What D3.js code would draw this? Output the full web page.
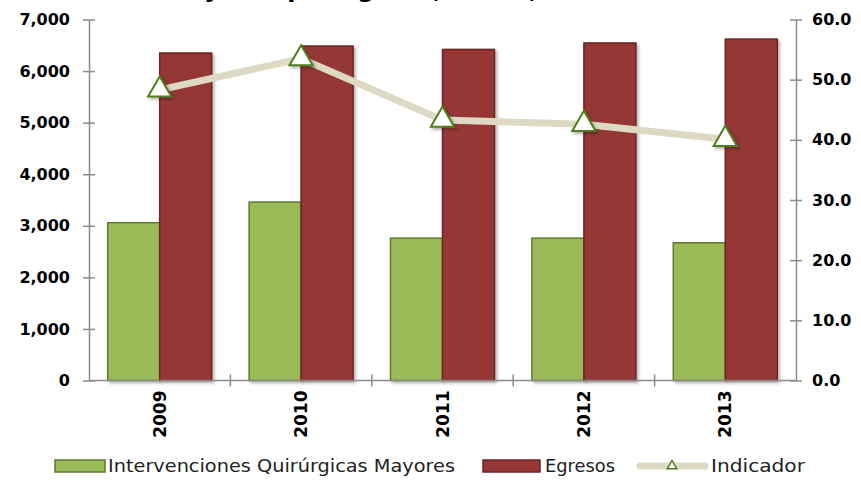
<!DOCTYPE html>
<html>
<head>
<meta charset="utf-8">
<script src="https://cdn.jsdelivr.net/npm/d3@7"></script>
<style>
  body { margin: 0; background: #fff; }
  svg { display: block; font-family: "Century Gothic", "DejaVu Sans", sans-serif; }
</style>
</head>
<body>
<div id="chart"></div>
<script>
// datos
var years = ["2009", "2010", "2011", "2012", "2013"];
var intervenciones = [3060, 3460, 2760, 2760, 2670];
var egresos = [6350, 6485, 6420, 6545, 6620];
var indicador = [48.3, 53.5, 43.3, 42.6, 40.1];
var leftTicks = [0, 1000, 2000, 3000, 4000, 5000, 6000, 7000];
var rightTicks = [0, 10, 20, 30, 40, 50, 60];
var seriesNames = ["Intervenciones Quirúrgicas Mayores", "Egresos", "Indicador"];

var width = 861, height = 485;
var plotLeft = 89, plotRight = 796, plotTop = 19.5, plotBottom = 380.5;

var svg = d3.select("#chart").append("svg")
    .attr("width", width)
    .attr("height", height);

// sombra suave de las barras y marcadores
var defs = svg.append("defs");
var f = defs.append("filter").attr("id", "shadow")
    .attr("x", "-20%").attr("y", "-20%").attr("width", "150%").attr("height", "150%");
f.append("feDropShadow").attr("dx", 2).attr("dy", 2).attr("stdDeviation", 1.6)
    .attr("flood-color", "#000").attr("flood-opacity", 0.3);

// titulo cortado arriba (solo se ven los trazos descendentes)
svg.append("text")
    .attr("x", 165).attr("y", -2)
    .attr("textLength", 525).attr("lengthAdjust", "spacingAndGlyphs")
    .style("font-size", "22px").style("font-weight", "bold")
    .text("Mayores por egreso, UMAE, 2009-2013");

var x = d3.scaleBand().domain(years).range([plotLeft, plotRight]);
var xSub = d3.scaleBand().domain(["i", "e"]).range([0, x.bandwidth()]).paddingOuter(0.36);
var y = d3.scaleLinear().domain([0, 7000]).range([plotBottom, plotTop]);
var y2 = d3.scaleLinear().domain([0, 60]).range([plotBottom, plotTop]);

// barras
var groups = svg.append("g").selectAll("g")
    .data(years)
    .enter().append("g")
    .attr("transform", d => "translate(" + x(d) + ",0)");

groups.append("rect")
    .attr("x", xSub("i"))
    .attr("y", (d, i) => y(intervenciones[i]))
    .attr("width", xSub.bandwidth())
    .attr("height", (d, i) => plotBottom - y(intervenciones[i]))
    .attr("fill", "#9bbb59")
    .attr("stroke", "#5c7a30")
    .attr("stroke-width", 1.5)
    .attr("filter", "url(#shadow)");

groups.append("rect")
    .attr("x", xSub("e"))
    .attr("y", (d, i) => y(egresos[i]))
    .attr("width", xSub.bandwidth())
    .attr("height", (d, i) => plotBottom - y(egresos[i]))
    .attr("fill", "#953735")
    .attr("stroke", "#6b2523")
    .attr("stroke-width", 1.5)
    .attr("filter", "url(#shadow)");

// ejes
var axisColor = "#8c8c8c";
var yAxis = svg.append("g")
    .attr("transform", "translate(" + plotLeft + ",0)")
    .call(d3.axisLeft(y).tickValues(leftTicks).tickSize(6).tickSizeOuter(0).tickPadding(13)
        .tickFormat(d3.format(",")));
yAxis.selectAll(".tick line").attr("x1", 6);

var y2Axis = svg.append("g")
    .attr("transform", "translate(" + plotRight + ",0)")
    .call(d3.axisRight(y2).tickValues(rightTicks).tickSize(6).tickSizeOuter(0).tickPadding(10)
        .tickFormat(d3.format(".1f")));
y2Axis.selectAll(".tick line").attr("x1", -6);

// eje x con marcas entre categorias
var xAxis = svg.append("g").attr("transform", "translate(0," + plotBottom + ")");
xAxis.append("line").attr("x1", plotLeft).attr("x2", plotRight).attr("stroke", axisColor).attr("stroke-width", 1.5);
xAxis.selectAll("line.sep")
    .data(years.slice(1))
    .enter().append("line")
    .attr("class", "sep")
    .attr("x1", d => x(d)).attr("x2", d => x(d))
    .attr("y1", -6).attr("y2", 6)
    .attr("stroke", axisColor).attr("stroke-width", 1.5);
xAxis.selectAll("text")
    .data(years)
    .enter().append("text")
    .attr("transform", d => "translate(" + (x(d) + x.bandwidth() / 2) + ",10) rotate(-90)")
    .attr("text-anchor", "end")
    .attr("dy", "0.36em")
    .style("font-size", "17px").style("font-weight", "bold")
    .attr("fill", "#000")
    .text(d => d);

[yAxis, y2Axis].forEach(function(a) {
    a.select(".domain").attr("stroke", axisColor).attr("stroke-width", 1.5);
    a.selectAll(".tick line").attr("stroke", axisColor).attr("stroke-width", 1.5);
    a.selectAll(".tick text")
        .attr("fill", "#000")
        .style("font-size", "16px").style("font-weight", "bold")
        .style("font-family", "\"Century Gothic\", \"DejaVu Sans\", sans-serif");
});

// linea del indicador
var cx = d => x(d) + x.bandwidth() / 2;
var line = d3.line()
    .x(d => cx(d))
    .y((d, i) => y2(indicador[i]));

svg.append("path")
    .datum(years)
    .attr("d", line)
    .attr("fill", "none")
    .attr("stroke", "#ddd9c3")
    .attr("stroke-width", 7)
    .attr("stroke-linejoin", "round");

var tri = d3.symbol().type(d3.symbolTriangle).size(235);
svg.append("g").selectAll("path")
    .data(years)
    .enter().append("path")
    .attr("d", tri)
    .attr("transform", (d, i) => "translate(" + cx(d) + "," + y2(indicador[i]) + ")")
    .attr("fill", "#fff")
    .attr("stroke", "#4f7f1e")
    .attr("stroke-width", 2)
    .attr("filter", "url(#shadow)");

// leyenda
var leg = svg.append("g").attr("transform", "translate(0,466)");
leg.append("rect").attr("x", 55).attr("y", -6).attr("width", 50).attr("height", 12)
    .attr("fill", "#9bbb59").attr("stroke", "#5c7a30").attr("stroke-width", 1.5);
leg.append("rect").attr("x", 483).attr("y", -6).attr("width", 57).attr("height", 12)
    .attr("fill", "#953735").attr("stroke", "#6b2523").attr("stroke-width", 1.5);
leg.append("line").attr("x1", 640).attr("x2", 705).attr("y1", 0).attr("y2", 0)
    .attr("stroke", "#ddd9c3").attr("stroke-width", 7).attr("stroke-linecap", "round");
leg.append("path").attr("d", d3.symbol().type(d3.symbolTriangle).size(40))
    .attr("transform", "translate(672,0)")
    .attr("fill", "#fff").attr("stroke", "#4f7f1e").attr("stroke-width", 1.5);

var legText = [
    {t: seriesNames[0], x: 108, w: 347},
    {t: seriesNames[1], x: 545, w: 70},
    {t: seriesNames[2], x: 711, w: 94}
];
leg.selectAll("text.l")
    .data(legText)
    .enter().append("text")
    .attr("class", "l")
    .attr("x", d => d.x).attr("y", 6)
    .attr("textLength", d => d.w).attr("lengthAdjust", "spacingAndGlyphs")
    .style("font-size", "17px")
    .attr("fill", "#222")
    .text(d => d.t);
</script>
</body>
</html>
